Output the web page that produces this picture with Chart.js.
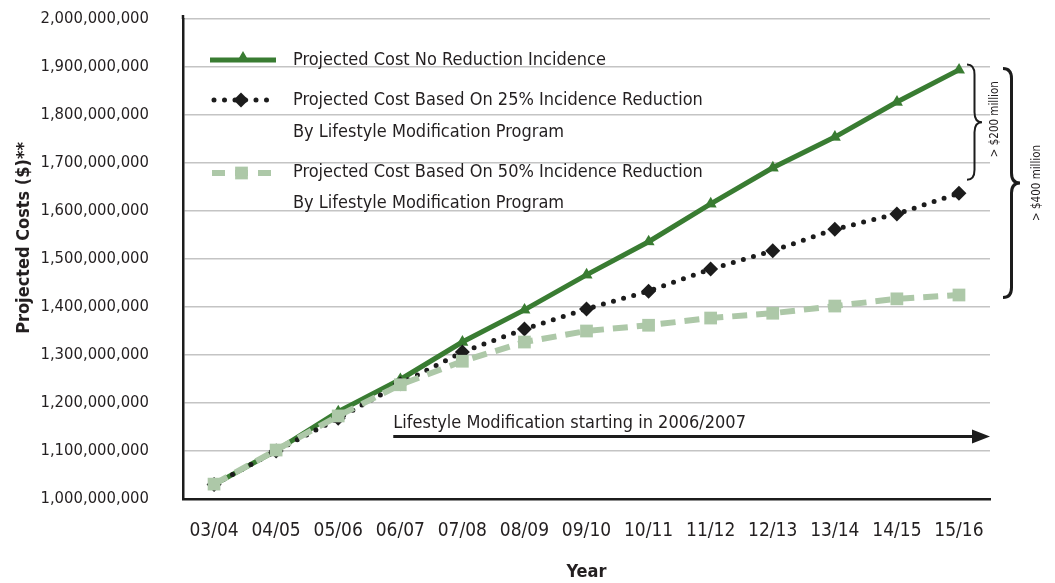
<!DOCTYPE html>
<html>
<head>
<meta charset="utf-8">
<script src="https://cdn.jsdelivr.net/npm/chart.js@4.4.0/dist/chart.umd.min.js"></script>
<style>
body{margin:0;background:#fff;}
#wrap{width:1055px;height:583px;}
</style>
</head>
<body>
<div id="wrap"><canvas id="costChart" width="1055" height="583"></canvas></div>
<script>
// data
let years=['03/04','04/05','05/06','06/07','07/08','08/09','09/10','10/11','11/12','12/13','13/14','14/15','15/16'];
let noReduction=[1030e6,1101e6,1182e6,1249e6,1327e6,1394e6,1467e6,1536e6,1615e6,1690e6,1754e6,1827e6,1894e6];
let reduction25=[1030e6,1100e6,1168e6,1240e6,1306e6,1354e6,1396e6,1433e6,1479e6,1517e6,1562e6,1594e6,1637e6];
let reduction50=[1031e6,1102e6,1173e6,1238e6,1287e6,1327e6,1350e6,1362e6,1377e6,1387e6,1402e6,1417e6,1425e6];
let seriesNames=[
    ['Projected Cost No Reduction Incidence'],
    ['Projected Cost Based On 25% Incidence Reduction','By Lifestyle Modification Program'],
    ['Projected Cost Based On 50% Incidence Reduction','By Lifestyle Modification Program']
];
let yMin=1000e6, yMax=2000e6, yStep=100e6;
let arrowText='Lifestyle Modification starting in 2006/2007';
let braceSmall=['> $200 million',1905e6,1665e6];
let braceBig=['> $400 million',1897e6,1420e6];

const FONT="'DejaVu Sans Condensed','DejaVu Sans',sans-serif";
const GREEN='#397c32', DARK='#1c1c1c', LIGHT='#adc8a8', TXT='#231f20';
Chart.defaults.font.family=FONT;
Chart.defaults.color=TXT;

function brace(ctx,x,y1,y2,d){
    let mid=(y1+y2)/2, r=Math.min(10,(y2-y1)/6), h=d/2;
    ctx.beginPath();
    ctx.moveTo(x,y1);
    ctx.quadraticCurveTo(x+h,y1,x+h,y1+r);
    ctx.lineTo(x+h,mid-r);
    ctx.quadraticCurveTo(x+h,mid,x+d,mid);
    ctx.quadraticCurveTo(x+h,mid,x+h,mid+r);
    ctx.lineTo(x+h,y2-r);
    ctx.quadraticCurveTo(x+h,y2,x,y2);
    ctx.stroke();
}

const extras={
    id:'extras',
    afterDatasetsDraw(chart){
        const ctx=chart.ctx, a=chart.chartArea, xs=chart.scales.x, ys=chart.scales.y;
        const dp=Chart.helpers.drawPoint;
        ctx.save();
        // axis stub above the top gridline
        ctx.strokeStyle=DARK;ctx.lineWidth=2.5;
        ctx.beginPath();ctx.moveTo(a.left,a.top);ctx.lineTo(a.left,a.top-4);ctx.stroke();
        // legend
        ctx.strokeStyle=GREEN;ctx.fillStyle=GREEN;ctx.lineWidth=5;
        ctx.beginPath();ctx.moveTo(210,60);ctx.lineTo(276,60);ctx.stroke();
        dp(ctx,{pointStyle:'triangle',radius:7,rotation:0,borderWidth:0},243,58);
        ctx.strokeStyle=DARK;ctx.fillStyle=DARK;ctx.lineCap='round';ctx.setLineDash([0,10.5]);
        ctx.beginPath();ctx.moveTo(214,100);ctx.lineTo(276,100);ctx.stroke();
        ctx.setLineDash([]);ctx.lineCap='butt';
        dp(ctx,{pointStyle:'rectRot',radius:7.5,rotation:0,borderWidth:0},241,100);
        ctx.strokeStyle=LIGHT;ctx.fillStyle=LIGHT;ctx.lineWidth=6;ctx.setLineDash([13,10]);
        ctx.beginPath();ctx.moveTo(212,173);ctx.lineTo(272,173);ctx.stroke();
        ctx.setLineDash([]);
        dp(ctx,{pointStyle:'rect',radius:9,rotation:0,borderWidth:0},241.5,173);
        ctx.font='18px '+FONT;
        ctx.fillStyle=TXT;
        ctx.textBaseline='middle';
        let rows=[[60],[100,132],[172,203]];
        seriesNames.forEach((lines,i)=>lines.forEach((t,j)=>ctx.fillText(t,293,rows[i][j])));
        // arrow
        let py=ys.getPixelForValue(1130e6), x0=xs.getPixelForValue(3)-7;
        ctx.strokeStyle=DARK;ctx.fillStyle=DARK;ctx.lineWidth=3;
        ctx.beginPath();ctx.moveTo(x0,py);ctx.lineTo(a.right-16,py);ctx.stroke();
        ctx.beginPath();ctx.moveTo(a.right,py);ctx.lineTo(a.right-18,py-7);ctx.lineTo(a.right-18,py+7);ctx.closePath();ctx.fill();
        ctx.fillStyle=TXT;ctx.textBaseline='alphabetic';
        ctx.fillText(arrowText,x0,py-9);
        // braces
        ctx.strokeStyle=DARK;ctx.lineWidth=2;
        let s1=ys.getPixelForValue(braceSmall[1]), s2=ys.getPixelForValue(braceSmall[2]);
        brace(ctx,967,s1,s2,15);
        ctx.lineWidth=3;
        let b1=ys.getPixelForValue(braceBig[1]), b2=ys.getPixelForValue(braceBig[2]);
        brace(ctx,1003,b1,b2,17);
        ctx.font='11.5px '+FONT;ctx.textAlign='center';ctx.textBaseline='middle';
        ctx.translate(995,(s1+s2)/2-3);ctx.rotate(-Math.PI/2);ctx.fillText(braceSmall[0],0,0);
        ctx.setTransform(1,0,0,1,0,0);
        ctx.translate(1037,(b1+b2)/2);ctx.rotate(-Math.PI/2);ctx.fillText(braceBig[0],0,0);
        ctx.setTransform(1,0,0,1,0,0);
        // y title
        ctx.font='bold 18px '+FONT;
        ctx.translate(24,238);ctx.rotate(-Math.PI/2);ctx.fillText('Projected Costs ($)**',0,0);
        ctx.restore();
    }
};

new Chart('costChart',{
    type:'line',
    data:{
        labels:years,
        datasets:[{
            label:seriesNames[0].join(' '),
            data:noReduction,
            borderColor:GREEN,backgroundColor:GREEN,
            borderWidth:5,pointStyle:'triangle',pointRadius:7,pointRotation:241,
            pointBorderWidth:0,order:3
        },{
            label:seriesNames[1].join(' '),
            data:reduction25,
            borderColor:DARK,backgroundColor:DARK,
            borderWidth:5,borderDash:[0,10.5],borderCapStyle:'round',
            pointStyle:'rectRot',pointRadius:7.5,pointBorderWidth:0,order:2
        },{
            label:seriesNames[2].join(' '),
            data:reduction50,
            borderColor:LIGHT,backgroundColor:LIGHT,
            borderWidth:6,borderDash:[15,9],
            pointStyle:'rect',pointRadius:9,pointBorderWidth:0,order:1
        }]
    },
    options:{
        responsive:false,
        animation:false,
        devicePixelRatio:1,
        layout:{padding:{top:19,right:65,left:0,bottom:0}},
        plugins:{legend:{display:false},tooltip:{enabled:false}},
        scales:{
            x:{
                offset:true,
                grid:{display:false,drawTicks:false},
                border:{display:true,color:DARK,width:2.5},
                ticks:{font:{size:19},padding:21,color:TXT,maxRotation:0,autoSkip:false},
                title:{display:true,text:'Year',font:{size:18,weight:'bold'},padding:0,color:TXT},
                afterFit(s){s.height=84;}
            },
            y:{
                min:yMin,max:yMax,
                grid:{color:'#c4c4c4',lineWidth:1.5,drawTicks:true,tickLength:31,tickColor:'rgba(0,0,0,0)'},
                border:{display:true,color:DARK,width:2.5},
                ticks:{stepSize:yStep,font:{size:16.5},padding:3,color:TXT,
                    callback:v=>v.toLocaleString('en-US')},
                afterFit(s){s.width=183;}
            }
        }
    },
    plugins:[extras]
});
</script>
</body>
</html>
